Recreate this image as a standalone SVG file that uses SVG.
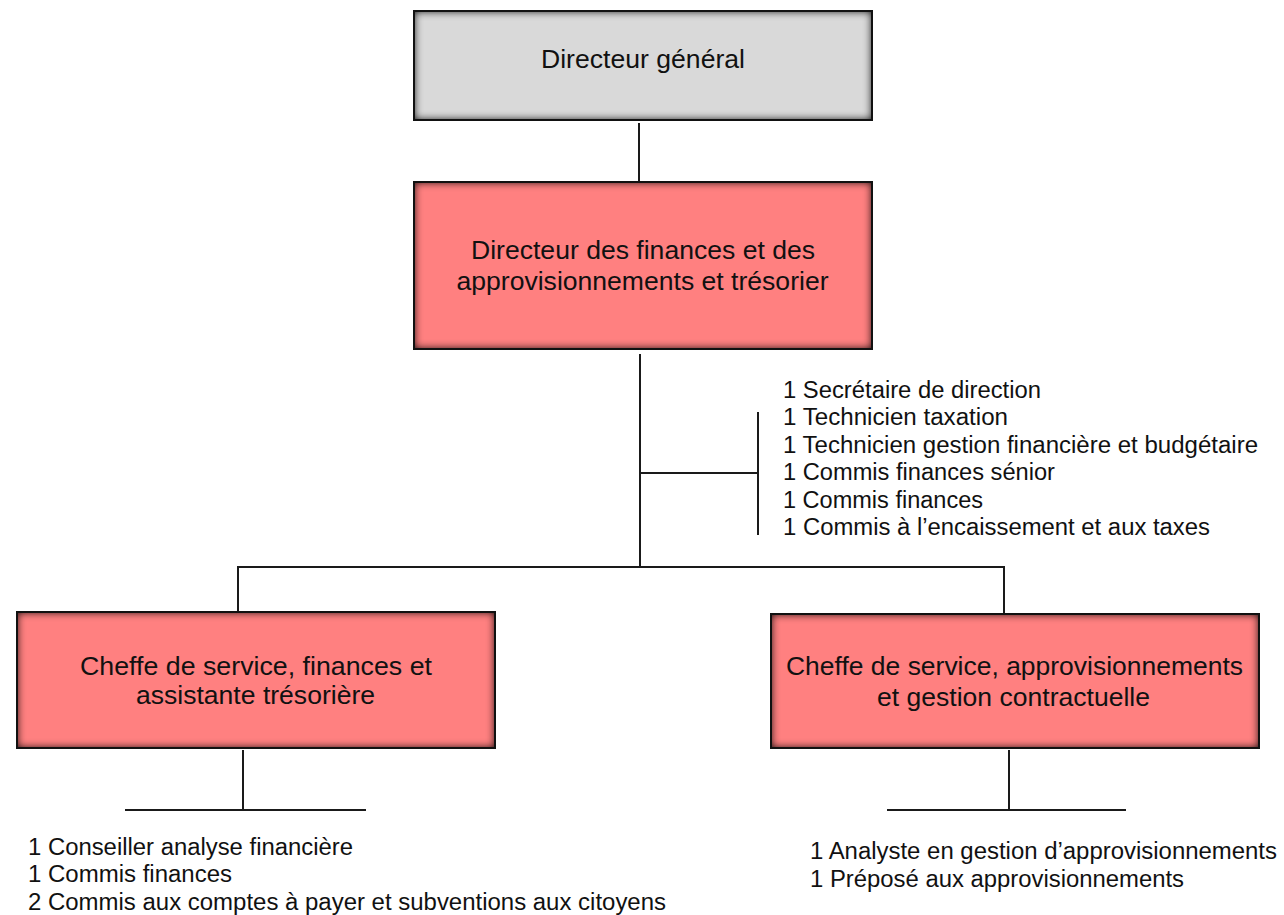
<svg xmlns="http://www.w3.org/2000/svg" width="1284" height="915" viewBox="0 0 1284 915">
<style>
  .box { stroke: #111; stroke-width: 2; }
  .gray { fill: #D9D9D9; }
  .pink { fill: #FF8080; }
  .t { font-family: "Liberation Sans", Arial, sans-serif; fill: #111; }
  .bt { font-size: 26px; text-anchor: middle; }
  .lt { font-size: 23.5px; }
  .conn line { stroke: #1a1a1a; stroke-width: 2; fill: none; }
</style>
<defs>
  <filter id="inset" x="-5%" y="-10%" width="110%" height="120%" color-interpolation-filters="sRGB">
    <feFlood flood-color="#000" flood-opacity="1" result="f"/>
    <feComposite in="f" in2="SourceAlpha" operator="out" result="o"/>
    <feGaussianBlur in="o" stdDeviation="4" result="b"/>
    <feComposite in="b" in2="SourceAlpha" operator="in" result="s"/>
    <feMerge><feMergeNode in="SourceGraphic"/><feMergeNode in="s"/></feMerge>
  </filter>
</defs>
<rect width="1284" height="915" fill="#fff"/>

<g id="connectors" class="conn">
  <line x1="639" y1="123" x2="639" y2="182"/>
  <line x1="640" y1="354" x2="640" y2="567"/>
  <line x1="640" y1="473" x2="758" y2="473"/>
  <line x1="758" y1="412" x2="758" y2="535"/>
  <line x1="237" y1="567" x2="1005" y2="567"/>
  <line x1="238" y1="567" x2="238" y2="612"/>
  <line x1="1004" y1="567" x2="1004" y2="614"/>
  <line x1="243" y1="750" x2="243" y2="810"/>
  <line x1="125" y1="810" x2="366" y2="810"/>
  <line x1="1009" y1="750" x2="1009" y2="810"/>
  <line x1="887" y1="810" x2="1126" y2="810"/>
</g>

<g id="dg">
  <rect class="gray" x="414" y="11" width="458" height="109" filter="url(#inset)"/>
  <rect class="box" fill="none" x="414" y="11" width="458" height="109"/>
  <text class="t bt" x="643" y="68" textLength="204" lengthAdjust="spacingAndGlyphs">Directeur général</text>
</g>

<g id="dfa">
  <rect class="pink" x="414" y="182" width="458" height="167" filter="url(#inset)"/>
  <rect class="box" fill="none" x="414" y="182" width="458" height="167"/>
  <text class="t bt" x="643" y="259" textLength="344" lengthAdjust="spacingAndGlyphs">Directeur des finances et des</text>
  <text class="t bt" x="642.5" y="290" textLength="372" lengthAdjust="spacingAndGlyphs">approvisionnements et trésorier</text>
</g>

<g id="staff-dfa" class="t lt">
  <text x="783" y="398" textLength="258" lengthAdjust="spacingAndGlyphs">1 Secrétaire de direction</text>
  <text x="783" y="425" textLength="225" lengthAdjust="spacingAndGlyphs">1 Technicien taxation</text>
  <text x="783" y="453" textLength="475" lengthAdjust="spacingAndGlyphs">1 Technicien gestion financière et budgétaire</text>
  <text x="783" y="480" textLength="272" lengthAdjust="spacingAndGlyphs">1 Commis finances sénior</text>
  <text x="783" y="508" textLength="200" lengthAdjust="spacingAndGlyphs">1 Commis finances</text>
  <text x="783" y="535" textLength="427" lengthAdjust="spacingAndGlyphs">1 Commis à l’encaissement et aux taxes</text>
</g>

<g id="cs-finances">
  <rect class="pink" x="17" y="612" width="478" height="136" filter="url(#inset)"/>
  <rect class="box" fill="none" x="17" y="612" width="478" height="136"/>
  <text class="t bt" x="256" y="675" textLength="352" lengthAdjust="spacingAndGlyphs">Cheffe de service, finances et</text>
  <text class="t bt" x="255.5" y="704" textLength="239" lengthAdjust="spacingAndGlyphs">assistante trésorière</text>
</g>

<g id="cs-approv">
  <rect class="pink" x="771" y="614" width="488" height="134" filter="url(#inset)"/>
  <rect class="box" fill="none" x="771" y="614" width="488" height="134"/>
  <text class="t bt" x="1014.5" y="675" textLength="457" lengthAdjust="spacingAndGlyphs">Cheffe de service, approvisionnements</text>
  <text class="t bt" x="1013.5" y="706" textLength="273" lengthAdjust="spacingAndGlyphs">et gestion contractuelle</text>
</g>

<g id="staff-finances" class="t lt">
  <text x="28" y="855" textLength="325" lengthAdjust="spacingAndGlyphs">1 Conseiller analyse financière</text>
  <text x="28" y="882" textLength="204" lengthAdjust="spacingAndGlyphs">1 Commis finances</text>
  <text x="28" y="910" textLength="638" lengthAdjust="spacingAndGlyphs">2 Commis aux comptes à payer et subventions aux citoyens</text>
</g>

<g id="staff-approv" class="t lt">
  <text x="810" y="859" textLength="467" lengthAdjust="spacingAndGlyphs">1 Analyste en gestion d’approvisionnements</text>
  <text x="810" y="887" textLength="374" lengthAdjust="spacingAndGlyphs">1 Préposé aux approvisionnements</text>
</g>
</svg>
